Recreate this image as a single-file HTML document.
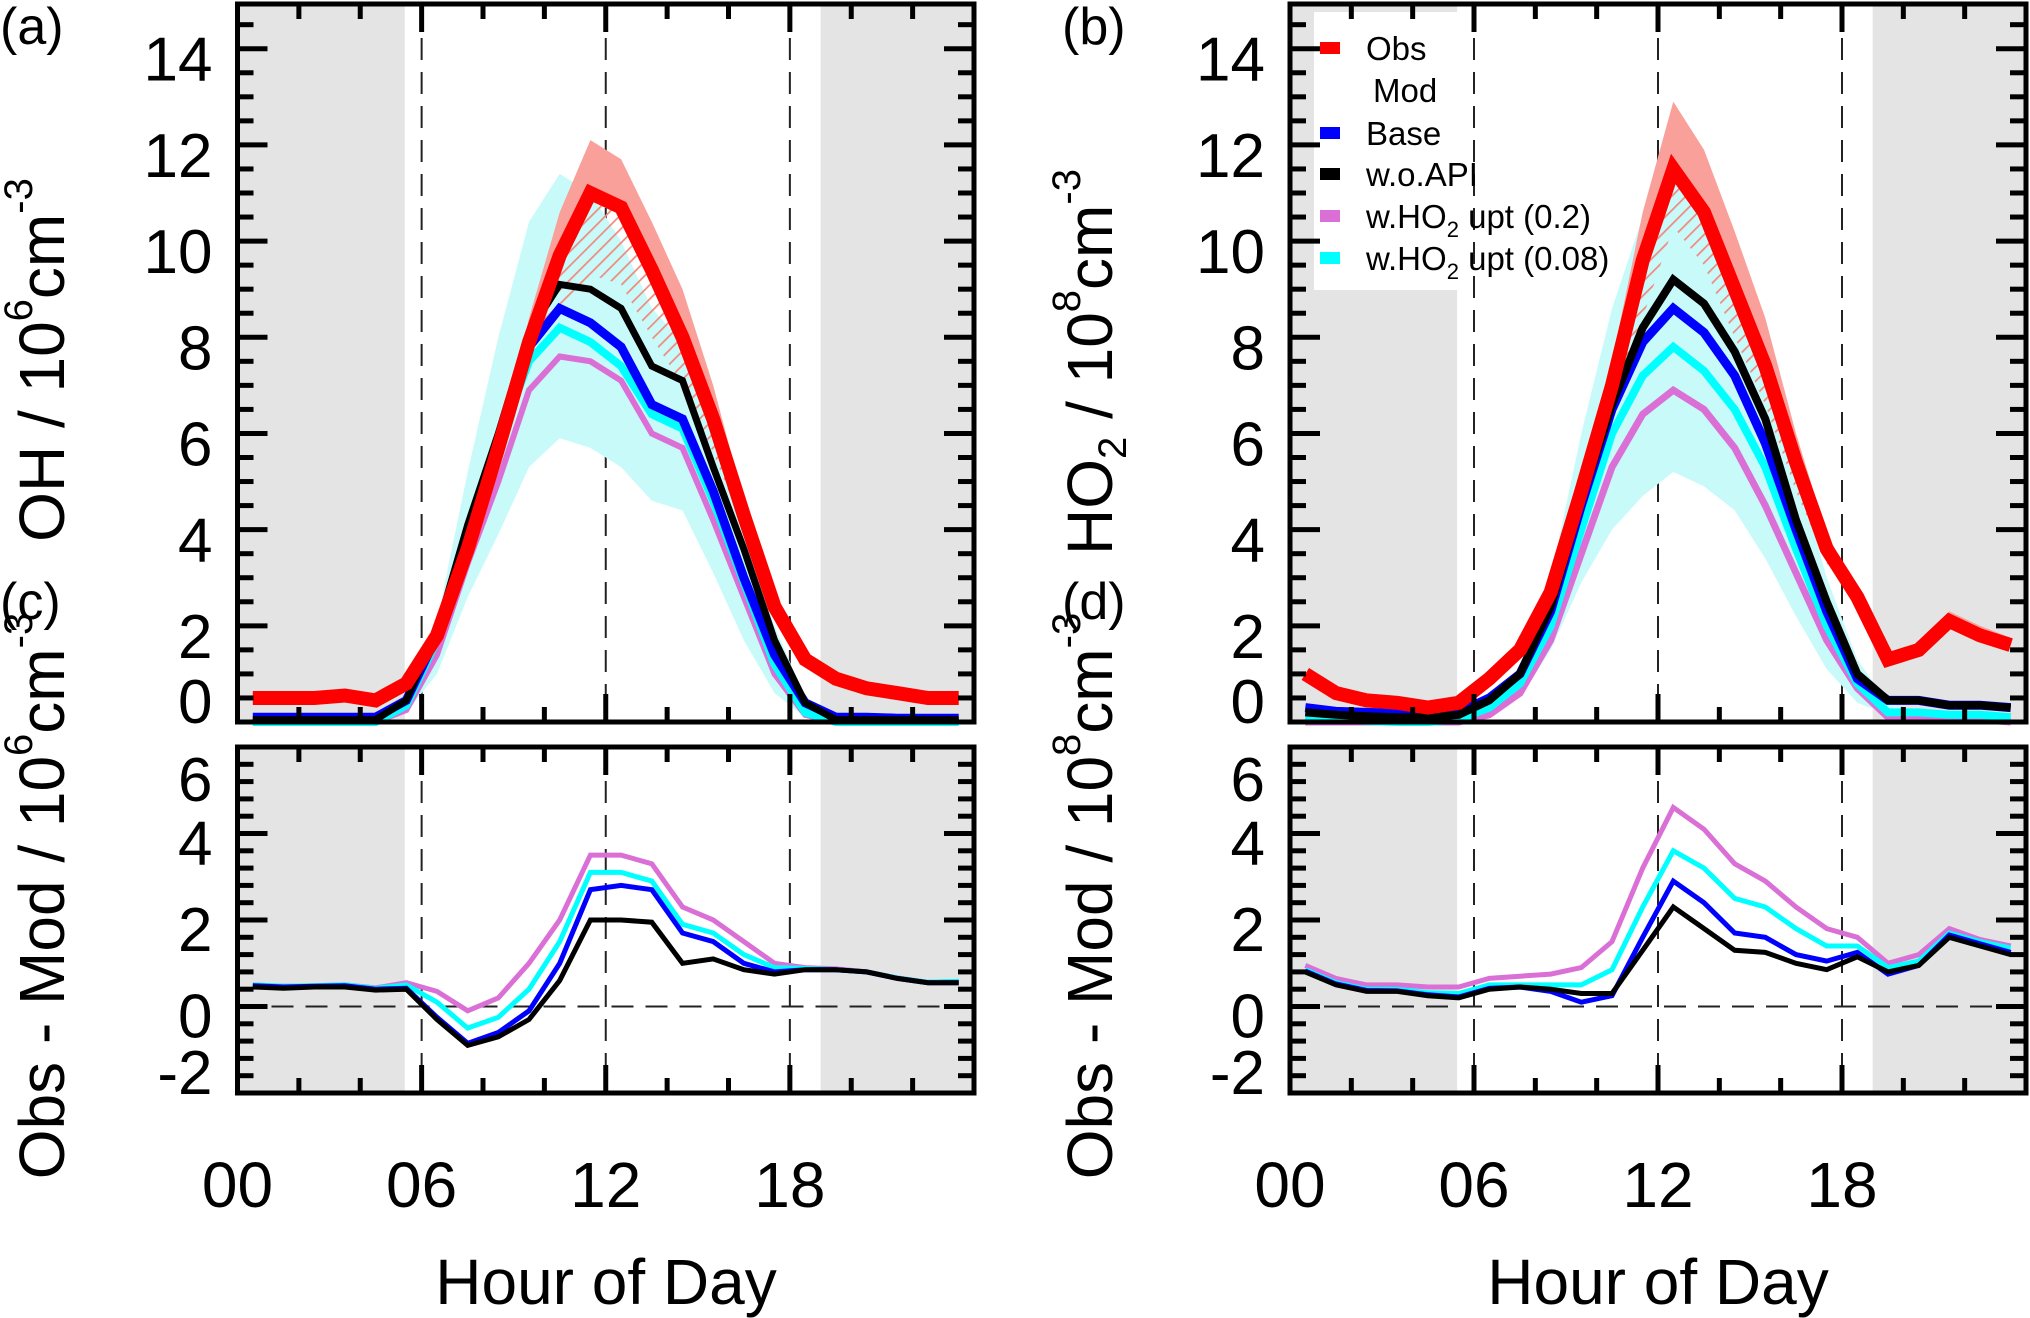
<!DOCTYPE html>
<html><head><meta charset="utf-8">
<style>
html,body{margin:0;padding:0;background:#fff;}
svg{display:block;font-family:"Liberation Sans",sans-serif;}
</style></head>
<body>
<svg id="chart" width="2030" height="1318" viewBox="0 0 2030 1318" xmlns="http://www.w3.org/2000/svg">
<defs>
<pattern id="hatch" patternUnits="userSpaceOnUse" width="10" height="10" patternTransform="rotate(45)">
<line x1="0" y1="0" x2="0" y2="10" stroke="#f08a80" stroke-width="3.5"/>
</pattern>
</defs>
<g id="root"></g>
</svg>
<script>
// ---------- data ----------
const hours = [0.5,1.5,2.5,3.5,4.5,5.5,6.5,7.5,8.5,9.5,10.5,11.5,12.5,13.5,14.5,15.5,16.5,17.5,18.5,19.5,20.5,21.5,22.5,23.5];
const xTickLabels = ["00","06","12","18"];
const concTicks = [0,2,4,6,8,10,12,14];
const diffTicks = [-2,0,2,4,6];

// Panel a (OH)
const ohObs   = [0.5,0.5,0.5,0.55,0.45,0.8,1.8,3.6,5.7,7.9,9.7,11.0,10.7,9.4,8.0,6.3,4.3,2.4,1.3,0.9,0.7,0.6,0.5,0.5];
const ohWoApi = [0.05,0.05,0.05,0.05,0.05,0.45,1.9,4.1,6.0,8.1,9.1,9.0,8.6,7.4,7.1,5.3,3.6,1.7,0.4,0.05,0.05,0.05,0.05,0.05];
const ohBase  = [0.1,0.1,0.1,0.1,0.1,0.45,1.8,4.0,5.9,7.8,8.6,8.3,7.8,6.6,6.3,4.8,3.0,1.4,0.4,0.1,0.1,0.08,0.08,0.08];
const ohUpt08 = [0.0,0.0,0.0,0.0,0.0,0.35,1.7,3.9,5.8,7.5,8.2,7.9,7.4,6.4,6.1,4.6,2.9,1.2,0.2,0.0,0.0,0.0,0.0,0.0];
const ohUpt2  = [0.0,0.0,0.0,0.0,0.0,0.25,1.4,3.3,5.0,6.9,7.6,7.5,7.1,6.0,5.7,4.2,2.6,1.0,0.15,0.0,0.0,0.0,0.0,0.0];
const ohBandHi= [0.0,0.0,0.0,0.0,0.0,0.5,2.1,5.2,8.0,10.4,11.4,11.0,10.0,8.6,7.9,6.0,4.0,2.0,0.5,0.0,0.0,0.0,0.0,0.0];
const ohBandLo= [0.0,0.0,0.0,0.0,0.0,0.2,1.0,2.6,3.9,5.3,5.9,5.7,5.3,4.6,4.4,3.1,1.7,0.6,0.1,0.0,0.0,0.0,0.0,0.0];
const ohObsHi = [0.5,0.5,0.5,0.55,0.45,0.8,1.8,3.6,5.7,8.4,10.6,12.1,11.7,10.4,9.0,7.0,4.6,2.5,1.3,0.9,0.7,0.6,0.5,0.5];
const ohObsLo = [0.5,0.5,0.5,0.55,0.45,0.8,1.8,3.6,5.7,7.6,8.5,9.3,9.1,8.0,7.0,5.6,4.0,2.3,1.3,0.9,0.7,0.6,0.5,0.5];

// Panel b (HO2)
const hoObs   = [1.0,0.6,0.45,0.4,0.3,0.4,0.9,1.5,2.7,4.8,7.0,9.6,11.5,10.6,9.0,7.4,5.4,3.6,2.6,1.3,1.5,2.1,1.8,1.6];
const hoWoApi = [0.2,0.15,0.12,0.1,0.1,0.15,0.45,1.0,2.4,4.6,6.6,8.2,9.2,8.7,7.7,6.3,4.2,2.5,1.0,0.45,0.45,0.35,0.35,0.3];
const hoBase  = [0.3,0.22,0.2,0.18,0.17,0.2,0.5,1.0,2.3,4.5,6.5,7.9,8.6,8.1,7.2,5.8,4.0,2.3,0.9,0.45,0.45,0.35,0.35,0.3];
const hoUpt08 = [0.1,0.05,0.02,0.0,0.0,0.05,0.3,0.8,2.0,4.0,6.0,7.2,7.8,7.3,6.5,5.3,3.6,2.0,0.8,0.2,0.2,0.15,0.15,0.1];
const hoUpt2  = [0.0,0.0,0.0,0.0,0.0,0.0,0.15,0.6,1.7,3.5,5.3,6.4,6.9,6.5,5.7,4.5,3.1,1.7,0.7,0.1,0.1,0.05,0.05,0.0];
const hoBandHi= [0.1,0.05,0.02,0.0,0.0,0.05,0.4,1.0,3.0,6.0,8.6,10.5,11.6,10.7,9.2,7.5,5.3,3.0,1.3,0.4,0.2,0.15,0.15,0.1];
const hoBandLo= [0.1,0.05,0.02,0.0,0.0,0.05,0.25,0.5,1.5,2.9,4.0,4.7,5.2,4.9,4.4,3.4,2.2,1.1,0.4,0.15,0.2,0.15,0.15,0.1];
const hoObsHi = [1.0,0.6,0.45,0.4,0.3,0.4,0.9,1.5,2.8,5.0,7.5,10.6,12.9,11.9,10.2,8.4,6.0,3.9,2.8,1.45,1.65,2.3,2.0,1.75];
const hoObsLo = [1.0,0.6,0.45,0.4,0.3,0.4,0.9,1.5,2.6,4.5,6.2,8.4,10.3,9.5,8.0,6.6,4.8,3.3,2.5,1.2,1.4,2.0,1.7,1.5];

// Panel c (OH obs - mod)
const dOhWoApi = [0.45,0.42,0.45,0.45,0.38,0.4,-0.3,-0.9,-0.7,-0.3,0.6,2.0,2.0,1.95,1.0,1.1,0.85,0.75,0.85,0.85,0.8,0.65,0.55,0.55];
const dOhBase  = [0.48,0.45,0.47,0.48,0.4,0.42,-0.25,-0.85,-0.6,-0.1,1.0,2.7,2.8,2.7,1.7,1.5,1.0,0.8,0.85,0.85,0.8,0.65,0.55,0.55];
const dOhUpt08 = [0.5,0.47,0.48,0.5,0.42,0.5,0.1,-0.5,-0.25,0.4,1.5,3.1,3.1,2.9,1.9,1.7,1.2,0.9,0.88,0.85,0.8,0.66,0.56,0.58];
const dOhUpt2  = [0.5,0.47,0.48,0.5,0.43,0.55,0.35,-0.1,0.2,1.0,2.0,3.5,3.5,3.3,2.3,2.0,1.5,1.0,0.9,0.87,0.8,0.66,0.56,0.58];

// Panel d (HO2 obs - mod)
const dHoWoApi = [0.8,0.5,0.35,0.35,0.25,0.2,0.4,0.45,0.4,0.3,0.3,1.3,2.3,1.8,1.3,1.25,1.0,0.85,1.15,0.8,0.95,1.6,1.4,1.2];
const dHoBase  = [0.82,0.52,0.37,0.36,0.27,0.22,0.42,0.45,0.35,0.1,0.25,1.6,2.9,2.4,1.7,1.6,1.2,1.05,1.25,0.75,0.95,1.65,1.45,1.25];
const dHoUpt08 = [0.85,0.55,0.4,0.4,0.32,0.3,0.5,0.5,0.5,0.5,0.85,2.3,3.6,3.2,2.5,2.3,1.8,1.4,1.4,0.9,1.05,1.7,1.5,1.35];
const dHoUpt2  = [0.95,0.65,0.5,0.5,0.45,0.45,0.65,0.7,0.75,0.9,1.5,3.2,4.6,4.1,3.3,2.9,2.3,1.8,1.6,1.0,1.2,1.8,1.55,1.4];

// ---------- drawing ----------
const NS = "http://www.w3.org/2000/svg";
const root = document.getElementById("root");
function el(tag, attrs, parent){
  const e = document.createElementNS(NS, tag);
  for (const k in attrs) e.setAttribute(k, attrs[k]);
  (parent||root).appendChild(e);
  return e;
}
const COL = {obs:"#ff0000", base:"#0000ff", woapi:"#000000", upt2:"#da70d6", upt08:"#00ffff"};

function panel(p){
  const g = el("g", {});
  
  
  const X = h => p.x0 + (p.x1 - p.x0) * h / 24;
  const Y = v => p.yb - (v - p.ymin) * (p.yb - p.yt) / (p.ymax - p.ymin);
  const s1 = el("rect", {x:X(0), y:p.yt, width:X(5.45)-X(0), height:p.yb-p.yt, fill:"#e4e4e4"}, g);
  
  
  const s2 = el("rect", {x:X(19), y:p.yt, width:X(24)-X(19), height:p.yb-p.yt, fill:"#e4e4e4"}, g);
  
  
  if (p.legend){
    const lb = el("rect", {x:1314, y:12, width:146, height:278, fill:"#fff"}, g);
    
    
  }
  [6,12,18].forEach(h=>{
    const l = el("line", {x1:X(h), x2:X(h), y1:p.yt, y2:p.yb, stroke:"#222", "stroke-width":2, "stroke-dasharray":"22,12"}, g);
    
    
  });
  if (p.zeroLine){
    const z = el("line", {x1:p.x0, x2:p.x1, y1:Y(0), y2:Y(0), stroke:"#222", "stroke-width":2, "stroke-dasharray":"22,12"}, g);
    
    
  }
  const band = (hi, lo, fill, name)=>{
    let d = hours.map((h,i)=>(i?"L":"M")+X(h).toFixed(1)+","+Y(hi[i]).toFixed(1)).join("");
    for (let i=hours.length-1;i>=0;i--) d += "L"+X(hours[i]).toFixed(1)+","+Y(lo[i]).toFixed(1);
    const b = el("path", {d:d+"Z", fill:fill, stroke:"none"}, g);
    
    
  };
  if (p.band) band(p.band[0], p.band[1], "#c8fafa", "model-range-band");
  if (p.obsBand){
    band(p.obsBand[0], p.series[0].v, "#f9a09a", "obs-upper-band");
    band(p.series[0].v, p.obsBand[1], "url(#hatch)", "obs-hatched-band");
  }
  for (let k=p.series.length-1;k>=0;k--){
    const s = p.series[k];
    const d = hours.map((h,i)=>(i?"L":"M")+X(h).toFixed(1)+","+Y(s.v[i]).toFixed(1)).join("");
    const pl = el("path", {d:d, fill:"none", stroke:s.c, "stroke-width":s.w, "stroke-linejoin":"miter", "stroke-miterlimit":3}, g);
    
    
  }
  const fr = el("rect", {x:p.x0, y:p.yt, width:p.x1-p.x0, height:p.yb-p.yt, fill:"none", stroke:"#000", "stroke-width":5}, g);
  
  
  const tk = el("g", {stroke:"#000", "stroke-width":5}, g);
  
  
  for (let v = p.ymin0; v <= p.ymax + 1e-6; v += p.minor){
    const major = Math.abs(v/2 - Math.round(v/2)) < 1e-6;
    const len = major ? 30 : 16;
    const yy = Y(v);
    if (yy < p.yt+3 || yy > p.yb-3) continue;
    el("line", {x1:p.x0, x2:p.x0+len, y1:yy, y2:yy}, tk);
    el("line", {x1:p.x1, x2:p.x1-len, y1:yy, y2:yy}, tk);
  }
  for (let h = 2; h < 24; h += 2){
    const len = (h%6===0) ? 28 : 15;
    el("line", {x1:X(h), x2:X(h), y1:p.yt, y2:p.yt+len}, tk);
    el("line", {x1:X(h), x2:X(h), y1:p.yb, y2:p.yb-len}, tk);
  }
  p.ticks.forEach(v=>{
    let yy = Y(v)+p.labOff;
    if (yy > p.yb + 1) yy = p.yb + 1;
    if (yy < p.yt + 54) yy = p.yt + 54;
    const t = el("text", {x:p.x0-25, y:yy, "text-anchor":"end", "font-size":62, fill:"#000"}, g);
    
    
    t.textContent = v;
  });
  if (p.xlabels){
    xTickLabels.forEach((lab,i)=>{
      const t = el("text", {x:X(i*6), y:1207, "text-anchor":"middle", "font-size":64, fill:"#000"}, g);
      
      
      t.textContent = lab;
    });
  }
  return {X,Y};
}

function ytitle(cx, cy, parts, name){
  const t = el("text", {transform:`translate(${cx},${cy}) rotate(-90)`, "text-anchor":"middle", "font-size":64, fill:"#000"});
  
  
  parts.forEach(pt=>{
    const s = el("tspan", pt.sup ? {"font-size":40, dy:-32} : pt.sub ? {"font-size":40, dy:14} : {dy:pt.reset||0}, t);
    s.textContent = pt.t;
  });
}

const series = (o,w,b,c08,c2,wd)=>[
  {n:"obs-line", c:COL.obs, v:o, w:wd[0]},
  {n:"wo-api-line", c:COL.woapi, v:w, w:wd[1]},
  {n:"base-line", c:COL.base, v:b, w:wd[2]},
  {n:"upt008-line", c:COL.upt08, v:c08, w:wd[3]},
  {n:"upt02-line", c:COL.upt2, v:c2, w:wd[4]}
].filter(s=>s.v);

panel({name:"panel-a-oh", x0:237.5, x1:974, yt:4, yb:722, ymin:0, ymax:14.93, ymin0:0, minor:0.5, ticks:concTicks, labOff:32,
  series:series(ohObs,ohWoApi,ohBase,ohUpt08,ohUpt2,[14,7,9,8,6]), band:[ohBandHi,ohBandLo], obsBand:[ohObsHi,ohObsLo]});
panel({name:"panel-b-ho2", x0:1290, x1:2026, yt:4, yb:722, ymin:0, ymax:14.93, ymin0:0, minor:0.5, ticks:concTicks, labOff:32, legend:true,
  series:series(hoObs,hoWoApi,hoBase,hoUpt08,hoUpt2,[14,8,9,8,7]), band:[hoBandHi,hoBandLo], obsBand:[hoObsHi,hoObsLo]});
const dser = (w,b,c08,c2)=>[
  {n:"wo-api-diff", c:COL.woapi, v:w, w:5},
  {n:"base-diff", c:COL.base, v:b, w:5},
  {n:"upt008-diff", c:COL.upt08, v:c08, w:5},
  {n:"upt02-diff", c:COL.upt2, v:c2, w:5}];
panel({name:"panel-c-oh-diff", x0:237.5, x1:974, yt:747, yb:1093, ymin:-2, ymax:6, ymin0:-2, minor:0.4, ticks:diffTicks, labOff:31, zeroLine:true, xlabels:true,
  series:dser(dOhWoApi,dOhBase,dOhUpt08,dOhUpt2)});
panel({name:"panel-d-ho2-diff", x0:1290, x1:2026, yt:747, yb:1093, ymin:-2, ymax:6, ymin0:-2, minor:0.4, ticks:diffTicks, labOff:31, zeroLine:true, xlabels:true,
  series:dser(dHoWoApi,dHoBase,dHoUpt08,dHoUpt2)});

ytitle(64, 360, [{t:"OH / 10"},{t:"6",sup:true},{t:"cm",reset:32},{t:"-3",sup:true}], "y-axis-title-oh");
ytitle(64, 896, [{t:"Obs - Mod / 10"},{t:"6",sup:true},{t:"cm",reset:32},{t:"-3",sup:true}], "y-axis-title-oh-diff");
ytitle(1112, 362, [{t:"HO"},{t:"2",sub:true},{t:" / 10",reset:-14},{t:"8",sup:true},{t:"cm",reset:32},{t:"-3",sup:true}], "y-axis-title-ho2");
ytitle(1112, 896, [{t:"Obs - Mod / 10"},{t:"8",sup:true},{t:"cm",reset:32},{t:"-3",sup:true}], "y-axis-title-ho2-diff");
</script>
<script>
(function(){
  const svg = document.getElementById("chart");
  const NS = "http://www.w3.org/2000/svg";
  function txt(x,y,s,size,name,anchor){
    const t = document.createElementNS(NS,"text");
    t.setAttribute("x",x); t.setAttribute("y",y); t.setAttribute("font-size",size);
    t.setAttribute("text-anchor",anchor||"start");
    
    
    t.textContent = s; svg.appendChild(t); return t;
  }
  txt(0,44,"(a)",52,"panel-label-a");
  txt(1062,44,"(b)",52,"panel-label-b");
  txt(0,619,"(c)",52,"panel-label-c");
  txt(1062,619,"(d)",52,"panel-label-d");
  txt(606,1304,"Hour of Day",64,"x-axis-title-left","middle");
  txt(1658,1304,"Hour of Day",64,"x-axis-title-right","middle");
  const leg = [["Obs","#ff0000",48],["Mod",null,90],["Base","#0000ff",133],["w.o.API","#000000",174],["w.HO|2| upt (0.2)","#da70d6",216],["w.HO|2| upt (0.08)","#00ffff",258]];
  leg.forEach(([lab,c,y])=>{
    if (c){
      const r = document.createElementNS(NS,"rect");
      r.setAttribute("x",1320); r.setAttribute("y",y-6); r.setAttribute("width",20); r.setAttribute("height",12); r.setAttribute("fill",c);
      
      
      svg.appendChild(r);
    }
    const t = document.createElementNS(NS,"text");
    t.setAttribute("x", c ? 1366 : 1373); t.setAttribute("y", y+12); t.setAttribute("font-size",33);
    
    
    const parts = lab.split("|");
    parts.forEach((p,i)=>{
      const s = document.createElementNS(NS,"tspan");
      if (i===1){ s.setAttribute("font-size",22); s.setAttribute("dy",9); }
      if (i===2){ s.setAttribute("dy",-9); }
      s.textContent = p; t.appendChild(s);
    });
    svg.appendChild(t);
  });
})();
</script>
</body></html>
